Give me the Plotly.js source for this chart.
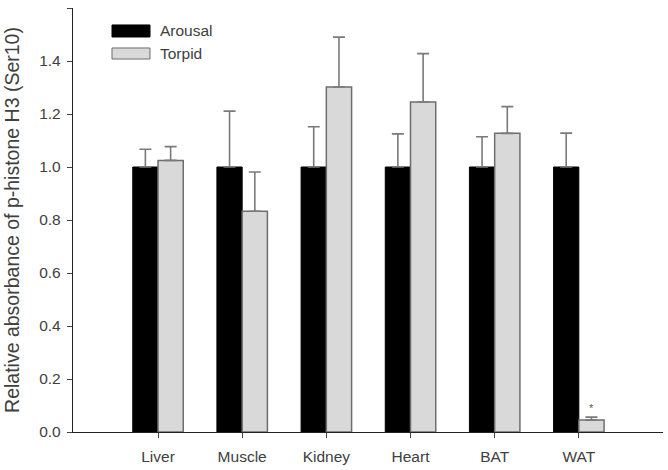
<!DOCTYPE html>
<html>
<head>
<meta charset="utf-8">
<script src="https://cdn.plot.ly/plotly-3.0.1.min.js"></script>
<style>html,body{margin:0;padding:0;background:#fff;}#chart{width:668px;height:470px;}</style>
</head>
<body>
<div id="chart"></div>
<script>
const categories = ["Liver", "Muscle", "Kidney", "Heart", "BAT", "WAT"];
const arousalValues = [1.0, 1.0, 1.0, 1.0, 1.0, 1.0];
const arousalErrors = [0.067, 0.211, 0.152, 0.125, 0.114, 0.128];
const torpidValues = [1.025, 0.833, 1.302, 1.245, 1.127, 0.045];
const torpidErrors = [0.052, 0.148, 0.188, 0.183, 0.101, 0.011];
const yTicks = [0, 0.2, 0.4, 0.6, 0.8, 1.0, 1.2, 1.4, 1.6];
const yTickLabels = ["0.0", "0.2", "0.4", "0.6", "0.8", "1.0", "1.2", "1.4", "1.6"];
const seriesNames = ["Arousal", "Torpid"];

const errStyle = {type: 'data', symmetric: false, color: '#7a7a7a', thickness: 1.6, width: 6};

const traces = [
  {
    type: 'bar', name: seriesNames[0], x: categories, y: arousalValues,
    marker: {color: '#000000', line: {color: '#000000', width: 1}},
    error_y: Object.assign({array: arousalErrors, arrayminus: arousalValues.map(() => 0)}, errStyle),
    showlegend: false
  },
  {
    type: 'bar', name: seriesNames[1], x: categories, y: torpidValues,
    marker: {color: '#d9d9d9', line: {color: '#6e6e6e', width: 1.5}},
    error_y: Object.assign({array: torpidErrors, arrayminus: torpidValues.map(() => 0)}, errStyle),
    showlegend: false
  }
];

const fontFam = 'Liberation Sans, Arial, sans-serif';
const txt = '#404040';
const layout = {
  width: 668, height: 470,
  margin: {l: 73, r: 5, t: 8, b: 38},
  paper_bgcolor: '#ffffff', plot_bgcolor: '#ffffff',
  barmode: 'group', bargap: 0.4, bargroupgap: 0,
  font: {family: fontFam, color: txt, size: 15},
  xaxis: {
    type: 'category', range: [-1.01, 6.0],
    showline: true, linecolor: '#222', linewidth: 1.2,
    ticks: 'outside', ticklen: 5, tickcolor: '#444', tickwidth: 1,
    showgrid: false, zeroline: false,
    tickfont: {size: 15.5, color: txt}, ticklabelstandoff: 5
  },
  yaxis: {
    range: [0, 1.6], tickvals: yTicks, ticktext: yTickLabels,
    showline: true, linecolor: '#222', linewidth: 1.2,
    ticks: 'outside', ticklen: 5, tickcolor: '#444', tickwidth: 1,
    showgrid: false, zeroline: false,
    tickfont: {size: 15.5, color: txt}, ticklabelstandoff: 3,
    title: {text: 'Relative absorbance of p-histone H3 (Ser10)', font: {size: 19.5, color: txt}, standoff: 14}
  },
  shapes: [
    {type: 'rect', xref: 'paper', yref: 'paper', x0: 0.0661, x1: 0.1305, y0: 0.960, y1: 0.9316, fillcolor: '#000000', line: {color: '#000000', width: 1}},
    {type: 'rect', xref: 'paper', yref: 'paper', x0: 0.0661, x1: 0.1305, y0: 0.9057, y1: 0.8797, fillcolor: '#d9d9d9', line: {color: '#6e6e6e', width: 1}}
  ],
  annotations: [
    {xref: 'paper', yref: 'paper', x: 0.1440, y: 0.9458, xanchor: 'left', yanchor: 'middle', text: seriesNames[0], showarrow: false, font: {size: 15.5, color: txt}},
    {xref: 'paper', yref: 'paper', x: 0.1440, y: 0.8930, xanchor: 'left', yanchor: 'middle', text: seriesNames[1], showarrow: false, font: {size: 15.5, color: txt}},
    {x: categories[5], y: torpidValues[5] + torpidErrors[5], xshift: 12.5, yshift: 1, yanchor: 'bottom', text: '*', showarrow: false, font: {size: 11, color: '#555'}}
  ]
};

Plotly.newPlot('chart', traces, layout, {displayModeBar: false, staticPlot: true});
</script>
</body>
</html>
